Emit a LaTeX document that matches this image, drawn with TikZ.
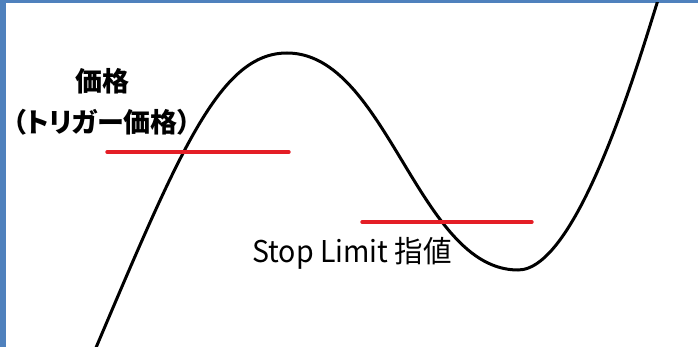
\documentclass[tikz,border=0pt]{standalone}
\usepackage{fontspec}
\setmainfont{Noto Sans CJK JP}
\newfontfamily\proptext[RawFeature=+palt]{Noto Sans CJK JP}
\usepackage{xcolor}
\usetikzlibrary{positioning}
\definecolor{frameblue}{HTML}{4F81BD}
\definecolor{levelred}{HTML}{E41E26}

\begin{document}
\begin{tikzpicture}[
  x=1pt,y=-1pt,
  price/.style={black,line width=3pt},
  level/.style={levelred,line width=3.4pt,line cap=round},
  lbl/.style={inner sep=0pt,align=center,font=\fontsize{27}{41}\selectfont}
]
\useasboundingbox (0,0) rectangle (698,347);
\fill[frameblue] (0,0) rectangle (6,347);
\fill[frameblue] (0,0) rectangle (698,3);
% price curve
\begin{scope}
\clip (6,3) rectangle (698,347);
\draw[price] (95,350) .. controls (180,150) and (220,53) .. (287,53)
  .. controls (387,53) and (418,270) .. (518,270)
  .. controls (578,270) and (638.5,61.5) .. (658,0);
\end{scope}
% trigger level
\coordinate (t1) at (107,152);
\coordinate (t2) at (289,152);
\draw[level] (t1) -- (t2);
% limit level
\coordinate (l1) at (362,222);
\coordinate (l2) at (532,222);
\draw[level] (l1) -- (l2);
\node[lbl,font=\proptext\fontsize{27}{41}\bfseries] (trig) at (102,102) {価格\\（トリガー価格）};
\node[lbl,font=\fontsize{30}{36}\selectfont,xscale=0.95] (lim) at (352,253) {Stop Limit 指値};
\end{tikzpicture}
\end{document}
